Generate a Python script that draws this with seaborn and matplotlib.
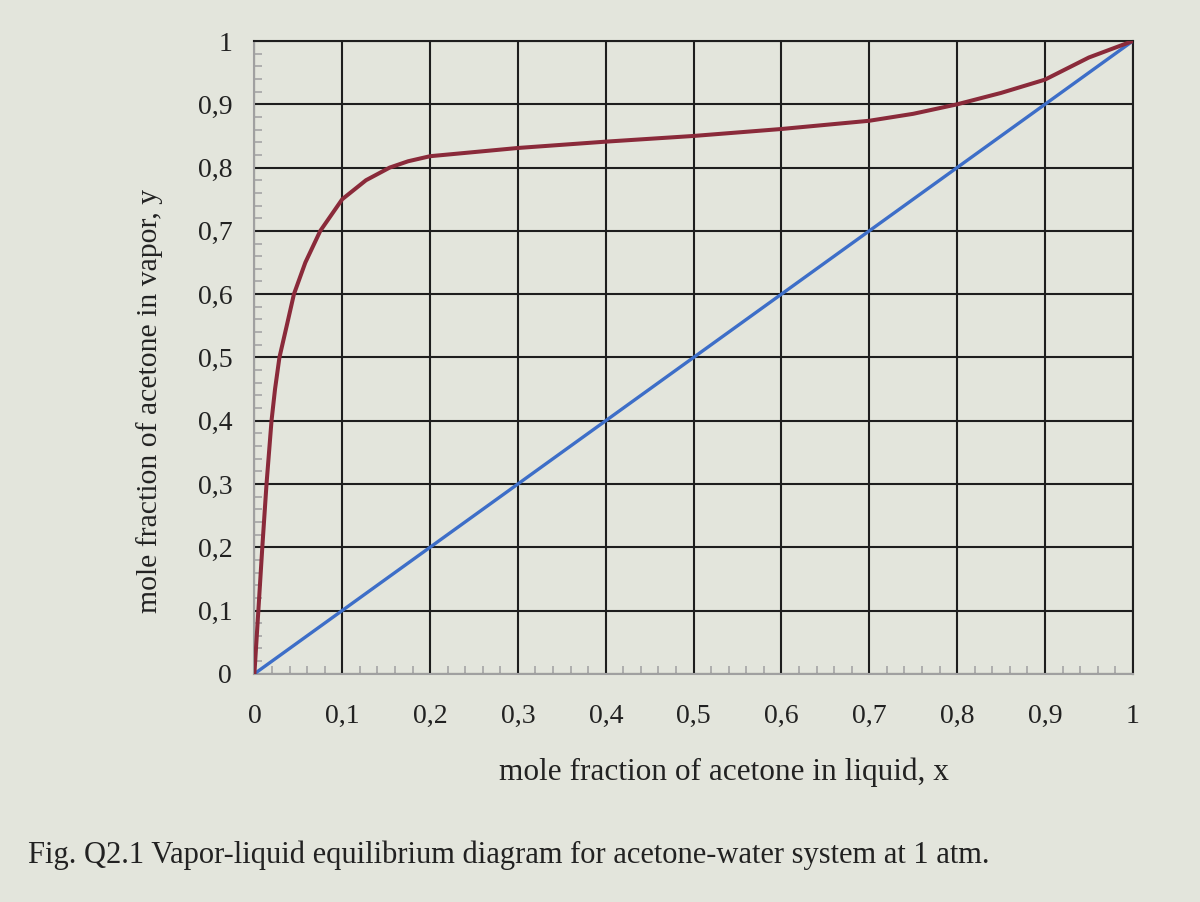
import numpy as np
import pandas as pd
import matplotlib
matplotlib.use("Agg")
import matplotlib.pyplot as plt
from matplotlib.ticker import MultipleLocator, FixedLocator
import seaborn as sns

# Equilibrium curve
x_eq = [0.0, 0.0045, 0.009, 0.0138, 0.0195, 0.0235, 0.0285, 0.0368, 0.045, 0.058, 0.075,
        0.1, 0.127, 0.154, 0.175, 0.2, 0.3, 0.4, 0.5, 0.6, 0.7, 0.75, 0.8, 0.85,
        0.9, 0.95, 1.0]
y_eq = [0.0, 0.1, 0.2, 0.3, 0.4, 0.45, 0.5, 0.55, 0.6, 0.65, 0.7,
        0.75, 0.78, 0.8, 0.81, 0.818, 0.831, 0.841, 0.85, 0.861, 0.874, 0.885, 0.9, 0.918,
        0.939, 0.974, 1.0]
# Diagonal y = x
x_diag = [0.0, 1.0]
y_diag = [0.0, 1.0]

tick_vals = [0.0, 0.1, 0.2, 0.3, 0.4, 0.5, 0.6, 0.7, 0.8, 0.9, 1.0]
tick_labels = ["0", "0,1", "0,2", "0,3", "0,4", "0,5", "0,6", "0,7", "0,8", "0,9", "1"]

xlabel = "mole fraction of acetone in liquid, x"
ylabel = "mole fraction of acetone in vapor, y"
caption = "Fig. Q2.1 Vapor-liquid equilibrium diagram for acetone-water system at 1 atm."

sns.set_theme(style="white")
plt.rcParams["font.family"] = ["Liberation Serif", "DejaVu Serif"]

bg = "#e3e5dc"
fig = plt.figure(figsize=(12, 9.02), dpi=100, facecolor=bg)
ax = fig.add_axes([0.212, 0.253, 0.732, 0.7015])
ax.set_facecolor(bg)

df_eq = pd.DataFrame({"x": x_eq, "y": y_eq})
df_diag = pd.DataFrame({"x": x_diag, "y": y_diag})

ax.set_xlim(0, 1)
ax.set_ylim(0, 1)

ax.xaxis.set_major_locator(FixedLocator(tick_vals))
ax.yaxis.set_major_locator(FixedLocator(tick_vals))
ax.grid(True, which="major", color="#1e1e1e", linewidth=1.5, zorder=1)
ax.set_axisbelow(True)

sns.lineplot(data=df_diag, x="x", y="y", ax=ax, color="#3d6ec8", linewidth=2.4,
             sort=False, zorder=3)
sns.lineplot(data=df_eq, x="x", y="y", ax=ax, color="#8a2a3a", linewidth=2.9,
             sort=False, zorder=4)

ax.set_xticks(tick_vals)
ax.set_xticklabels(tick_labels)
ax.set_yticks(tick_vals)
ax.set_yticklabels(tick_labels)
ax.tick_params(axis="both", which="major", length=0, labelsize=20, colors="#222222")
ax.tick_params(axis="x", which="major", pad=22)
ax.tick_params(axis="y", which="major", pad=16)
ax.xaxis.set_minor_locator(MultipleLocator(0.02))
ax.yaxis.set_minor_locator(MultipleLocator(0.02))
ax.tick_params(axis="both", which="minor", direction="in", length=6, width=1.2,
               color="#a5a5a5", left=True, bottom=True)

for side in ["left", "bottom"]:
    ax.spines[side].set_color("#a0a0a0")
    ax.spines[side].set_linewidth(1.5)
for side in ["top", "right"]:
    ax.spines[side].set_color("#1e1e1e")
    ax.spines[side].set_linewidth(1.5)

ax.set_xlabel(xlabel, fontsize=22.5, color="#222222")
ax.set_ylabel(ylabel, fontsize=21.4, color="#222222")
ax.xaxis.set_label_coords(0.534, -0.133)
ax.yaxis.set_label_coords(-0.1035, 0.432)

fig.text(0.023, 0.052, caption, fontsize=22, color="#222222", ha="left", va="center")

fig.savefig("out.png", dpi=100, facecolor=bg)
